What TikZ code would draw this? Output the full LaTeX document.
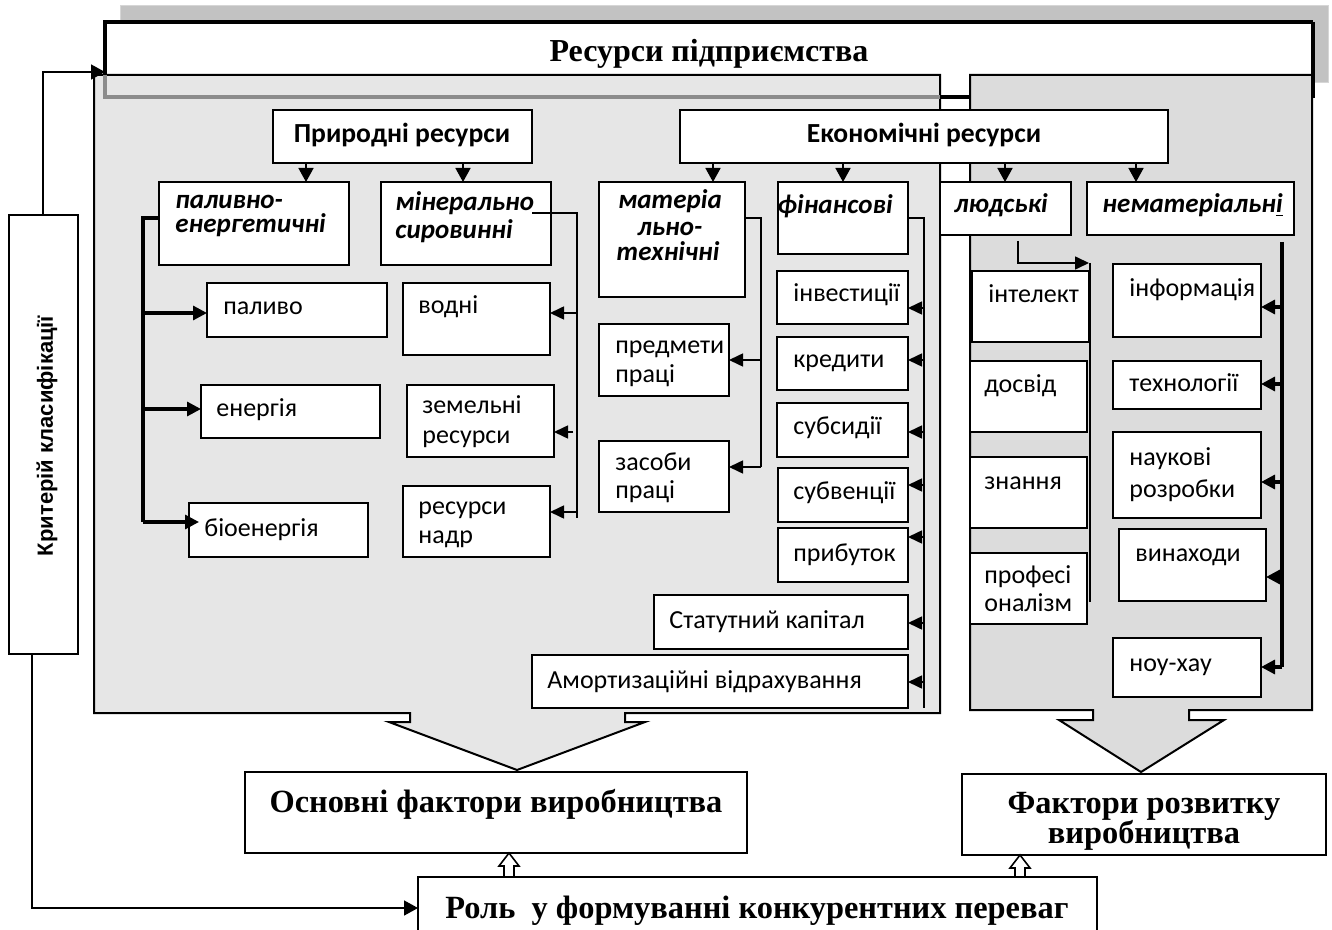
\documentclass[tikz,border=0pt]{standalone}
\usepackage{fontspec}
\setmainfont{Carlito}
\newfontfamily\tnr{Liberation Serif}
\newfontfamily\arl{Liberation Sans}
\usetikzlibrary{arrows.meta}
\definecolor{band}{RGB}{194,194,194}
\definecolor{bandedge}{RGB}{214,214,214}
\definecolor{lp}{RGB}{230,230,230}
\definecolor{rp}{RGB}{220,220,220}
\definecolor{gline}{RGB}{140,140,140}
\newcommand\bx[5]{\node[box,minimum width={(#4-(#2))*0.5pt},minimum height={(#5-(#3))*0.5pt}] (#1) at ({(#2+#4)/2},{(#3+#5)/2}) {};}
\newcommand\tx[5][tt]{\node[#1] (#2) at (#3,#4) {#5};}
\begin{document}
\begin{tikzpicture}[x=0.5pt,y=-0.5pt,
  box/.style={draw=black,line width=1pt,fill=white,inner sep=0pt,outer sep=0pt},
  tt/.style={anchor=base west,inner sep=0pt,font=\fontsize{13}{15}\selectfont},
  cat/.style={anchor=base west,inner sep=0pt,font=\fontsize{13.5}{16}\selectfont\bfseries\itshape},
  catc/.style={anchor=base,inner sep=0pt,font=\fontsize{13.5}{16}\selectfont\bfseries\itshape},
  hdr/.style={anchor=base,inner sep=0pt,font=\fontsize{13.8}{16}\selectfont\bfseries},
  big/.style={anchor=base,inner sep=0pt,font=\tnr\fontsize{16.2}{20}\selectfont\bfseries},
  arr/.style={line width=0.8pt,-{Triangle[length=7pt,width=6.5pt]}},
  harr/.style={line width=0.8pt,-{Triangle[length=7pt,width=7.5pt]}},
  tarr/.style={line width=1.6pt,-{Triangle[length=7pt,width=7pt]}},
  tn/.style={line width=0.8pt},
  tk/.style={line width=1.6pt},
  hol/.style={line width=0.8pt,fill=white,line join=miter}]
\useasboundingbox (0,0) rectangle (1332,930);
% header band and title box
\draw[bandedge,fill=band] (120,5) rectangle (1328,82);
\node[fill=white,draw=none,inner sep=0pt,outer sep=0pt,minimum width={1208*0.5pt},minimum height={75*0.5pt}] (tbox) at (709,59.5) {};
\draw[line width=1.6pt] (105,75) -- (105,22) -- (1313,22);
% left panel with arrow
\draw[line width=1pt,fill=lp,line join=miter] (94,75) -- (940,75) -- (940,713) -- (625,713) -- (625,722) -- (645,722) -- (517,770) -- (389,722) -- (410,722) -- (410,713) -- (94,713) -- cycle;
\draw[line width=1.6pt,gline] (105,75) -- (105,97) -- (940,97);
\draw[line width=1.6pt] (940,97) -- (970,97);
% right panel with arrow
\draw[line width=1pt,fill=rp,line join=miter] (970,75) -- (1312,75) -- (1312,710) -- (1189,710) -- (1189,720) -- (1224,720) -- (1141,772) -- (1059,720) -- (1093,720) -- (1093,710) -- (970,710) -- cycle;
\draw[line width=1.6pt] (1313,22) -- (1313,98);
\node[big,font=\tnr\fontsize{16}{20}\selectfont\bfseries] (title) at (709,62) {Ресурси підприємства};
% boxes
\bx{prir}{273}{110}{532}{163}
\bx{econ}{680}{110}{1168}{163}
\bx{palen}{159}{182}{349}{265}
\bx{minr}{381}{182}{551}{265}
\bx{mat}{599}{182}{745}{297}
\bx{fin}{778}{182}{908}{254}
\bx{lyud}{940}{182}{1071}{235}
\bx{nemat}{1087}{182}{1294}{235}
\bx{palyvo}{207}{283}{387}{337}
\bx{energ}{201}{385}{380}{438}
\bx{bio}{189}{503}{368}{557}
\bx{vodni}{403}{283}{550}{355}
\bx{zem}{407}{385}{554}{457}
\bx{nadr}{403}{486}{550}{557}
\bx{predm}{599}{324}{729}{396}
\bx{zasob}{599}{441}{729}{512}
\bx{inv}{777}{271}{908}{324}
\bx{kred}{777}{337}{908}{390}
\bx{subs}{777}{403}{908}{457}
\bx{subv}{778}{468}{908}{522}
\bx{prib}{778}{528}{908}{582}
\bx{stat}{654}{595}{908}{649}
\bx{amort}{532}{655}{908}{708}
\bx{intel}{972}{271}{1089}{342}
\bx{dosv}{970}{361}{1087}{432}
\bx{znan}{970}{457}{1087}{528}
\bx{prof}{970}{553}{1087}{624}
\bx{info}{1113}{264}{1261}{337}
\bx{tech}{1113}{361}{1261}{409}
\bx{nauk}{1113}{432}{1261}{518}
\bx{vyn}{1119}{529}{1266}{601}
\bx{nou}{1113}{638}{1261}{697}
\bx{krit}{9}{215}{78}{654}
\bx{osn}{245}{772}{747}{853}
\bx{rozv}{962}{774}{1326}{855}
\bx{rol}{418}{877}{1097}{960}
% texts
\tx[hdr]{prirt}{402}{143}{Природні ресурси}
\tx[hdr]{econt}{924}{143}{Економічні ресурси}
\tx[cat]{palent1}{175}{209}{паливно-}
\tx[cat]{palent2}{175}{233}{енергетичні}
\tx[cat]{minrt1}{395}{211}{мінерально}
\tx[cat]{minrt2}{395}{239}{сировинні}
\tx[catc]{matt1}{670}{209}{матеріа}
\tx[catc]{matt2}{670}{236}{льно-}
\tx[catc]{matt3}{668}{261}{технічні}
\tx[cat]{fint}{777}{214}{фінансові}
\tx[cat]{lyudt}{954}{213}{людські}
\tx[cat]{nematt}{1102}{213}{нематеріальн\underline{і}}
\tx{palyvot}{223}{315}{паливо}
\tx{energt}{216}{416}{енергія}
\tx{biot}{204}{536}{біоенергія}
\tx{vodnit}{418}{314}{водні}
\tx{zemt1}{422}{413}{земельні}
\tx{zemt2}{422}{443}{ресурси}
\tx{nadrt1}{418}{514}{ресурси}
\tx{nadrt2}{418}{543}{надр}
\tx{predmt1}{615}{354}{предмети}
\tx{predmt2}{615}{383}{праці}
\tx{zasobt1}{615}{470}{засоби}
\tx{zasobt2}{615}{498}{праці}
\tx{invt}{793}{302}{інвестиції}
\tx{kredt}{793}{368}{кредити}
\tx{subst}{793}{434}{субсидії}
\tx{subvt}{793}{499}{субвенції}
\tx{pribt}{793}{561}{прибуток}
\tx{statt}{669}{628}{Статутний капітал}
\tx{amortt}{547}{688}{Амортизаційні відрахування}
\tx{intelt}{988}{303}{інтелект}
\tx{dosvt}{984}{393}{досвід}
\tx{znant}{984}{489}{знання}
\tx{proft1}{984}{583}{професі}
\tx{proft2}{984}{611}{оналізм}
\tx{infot}{1129}{297}{інформація}
\tx{techt}{1129}{392}{технології}
\tx{naukt1}{1129}{465}{наукові}
\tx{naukt2}{1129}{497}{розробки}
\tx{vynt}{1135}{561}{винаходи}
\tx{nout}{1129}{671}{ноу-хау}
\node[rotate=90,inner sep=0pt,font=\arl\fontsize{11}{13}\selectfont\bfseries] (kritt) at (47,436) {Критерій класифікації};
\tx[big]{osnt}{496}{812}{Основні фактори виробництва}
\tx[big]{rozvt1}{1144}{813}{Фактори розвитку}
\tx[big]{rozvt2}{1144}{843}{виробництва}
\tx[big]{rolt}{757}{918}{Роль\ \ у формуванні конкурентних переваг}
% arrows from headers
\draw[harr] (prir.south -| 306,0) -- (palen.north -| 306,0);
\draw[harr] (prir.south -| 463,0) -- (minr.north -| 463,0);
\draw[harr] (econ.south -| 713,0) -- (mat.north -| 713,0);
\draw[harr] (econ.south -| 843,0) -- (fin.north -| 843,0);
\draw[harr] (econ.south -| 1005,0) -- (lyud.north -| 1005,0);
\draw[harr] (econ.south -| 1136,0) -- (nemat.north -| 1136,0);
% fuel-energy bus
\coordinate (pb1) at (143,313);
\coordinate (pb2) at (143,409);
\coordinate (pb3) at (143,522);
\draw[tk] (palen.west |- 0,218) -| (pb3);
\draw[tarr] (pb1) -- (palyvo.west |- pb1);
\draw[tarr] (pb2) -- (energ.west |- pb2);
\draw[tarr] (pb3) -- ([xshift=5pt]bio.west |- pb3);
% mineral bus
\coordinate (ms) at (532,213);
\coordinate (mb1) at (577,313);
\coordinate (mb2) at (573,432);
\coordinate (mb3) at (577,512);
\draw[tn] (ms) -- (577,213) -- (577,518);
\draw[arr] (mb1) -- (vodni.east |- mb1);
\draw[arr] (mb2) -- (zem.east |- mb2);
\draw[arr] (mb3) -- (nadr.east |- mb3);
% material bus
\coordinate (tb1) at (761,360);
\coordinate (tb2) at (761,467);
\draw[tn] (mat.east |- 0,218) -| (tb2);
\draw[arr] (tb1) -- (predm.east |- tb1);
\draw[arr] (tb2) -- (zasob.east |- tb2);
% finance bus
\draw[tn] (fin.east |- 0,218) -- (924,218) -- (924,708);
\foreach \n/\y in {inv/308,kred/360,subs/432,subv/485,prib/537,stat/623,amort/682}{
  \coordinate (fb\n) at (924,\y);
  \draw[arr] (fb\n) -- (\n.east |- fb\n);
}
% human
\coordinate (ls) at (1018,241);
\coordinate (le) at (1089,263);
\draw[arr] (ls) |- (le);
\draw[tn] (1090,263) -- (1090,602);
% intangible bus
\coordinate (ns) at (1282,242);
\coordinate (ne) at (1282,667);
\draw[tk] (ns) -- (ne);
\draw[tarr] (ne) -- (nou.east |- ne);
\foreach \n/\y in {info/307,tech/384,nauk/482,vyn/577}{
  \coordinate (nb\n) at (1282,\y);
  \draw[tarr] (nb\n) -- (\n.east |- nb\n);
}
% classification criterion links
\draw[harr] (krit.north -| 43,0) |- (tbox.west |- 0,72);
\draw[harr] (krit.south -| 32,0) |- (rol.west |- 0,908);
% hollow arrows
\draw[hol] (osn.south -| 509,0) -- ++(10,13) -- ++(-5,0) -- (rol.north -| 514,0) -- (rol.north -| 504,0) -- ++(0,-11) -- ++(-5,0) -- cycle;
\draw[hol] (rozv.south -| 1020,0) -- ++(10,13) -- ++(-5,0) -- (rol.north -| 1025,0) -- (rol.north -| 1015,0) -- ++(0,-9) -- ++(-5,0) -- cycle;
\end{tikzpicture}
\end{document}
